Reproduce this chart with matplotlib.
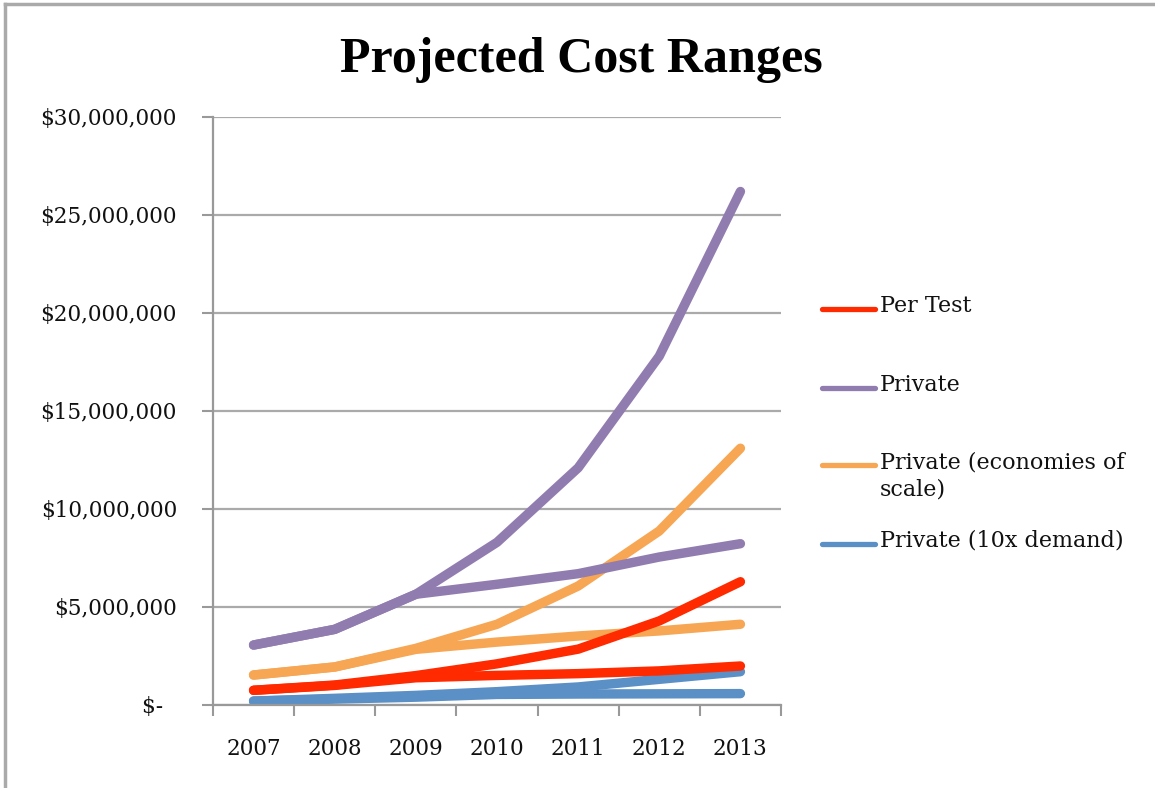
import numpy as np
import matplotlib.pyplot as plt
from matplotlib.lines import Line2D
from matplotlib.ticker import FuncFormatter

years = ["2007", "2008", "2009", "2010", "2011", "2012", "2013"]

# high / low projections for each scenario (dollars)
per_test_high = [0.75e6, 1.02e6, 1.50e6, 2.10e6, 2.85e6, 4.29e6, 6.29e6]
per_test_low = [0.75e6, 1.00e6, 1.39e6, 1.51e6, 1.60e6, 1.74e6, 1.99e6]
private_high = [3.06e6, 3.86e6, 5.65e6, 8.30e6, 12.1e6, 17.8e6, 26.2e6]
private_low = [3.06e6, 3.86e6, 5.65e6, 6.16e6, 6.70e6, 7.55e6, 8.23e6]
econ_high = [1.53e6, 1.94e6, 2.89e6, 4.12e6, 6.07e6, 8.88e6, 13.1e6]
econ_low = [1.53e6, 1.94e6, 2.84e6, 3.21e6, 3.52e6, 3.78e6, 4.12e6]
demand_high = [0.20e6, 0.34e6, 0.49e6, 0.68e6, 0.92e6, 1.31e6, 1.70e6]
demand_low = [0.20e6, 0.30e6, 0.40e6, 0.54e6, 0.56e6, 0.57e6, 0.58e6]

labels = ["Per Test", "Private", "Private (economies of\nscale)", "Private (10x demand)"]
colors = ["#FF2A00", "#917CB0", "#F7A654", "#5B90C6"]

plt.rcParams["font.family"] = ["DejaVu Serif"]

W, H = 1155, 788
fig = plt.figure(figsize=(W / 100, H / 100), dpi=100)
ax = fig.add_axes([213 / W, 1 - 705 / H, 568 / W, 588 / H])

x = np.arange(len(years))
pairs = [(per_test_high, per_test_low), (private_high, private_low),
         (econ_high, econ_low), (demand_high, demand_low)]
# draw in reverse so red sits above blue where they overlap
for i in [3, 2, 1, 0]:
    hi, lo = pairs[i]
    ax.plot(x, lo, color=colors[i], lw=6.8, solid_capstyle="round", solid_joinstyle="round")
    ax.plot(x, hi, color=colors[i], lw=6.8, solid_capstyle="round", solid_joinstyle="round")

ax.set_xlim(-0.5, 6.5)
ax.set_ylim(0, 30e6)
ax.set_yticks(np.arange(0, 30e6 + 1, 5e6))


def money(v, pos):
    if v == 0:
        return "$-  "
    return "${:,.0f}".format(v)


ax.yaxis.set_major_formatter(FuncFormatter(money))
ax.set_xticks(np.arange(-0.5, 7, 1))
ax.set_xticklabels([])
ax.set_xticks(x, minor=True)
ax.set_xticklabels(years, minor=True)
ax.tick_params(axis="x", which="minor", length=0, pad=24, labelsize=15.5)
ax.tick_params(axis="x", which="major", length=8, width=1.5, color="#999999")
ax.tick_params(axis="y", length=8, width=1.5, color="#999999", pad=18, labelsize=15.5)
for t in ax.get_xticklabels(minor=True) + ax.get_yticklabels():
    t.set_color("#111111")

ax.grid(axis="y", color="#aaaaaa", lw=1.6)
ax.set_axisbelow(True)
for s in ["top", "right"]:
    ax.spines[s].set_visible(False)
for s in ["left", "bottom"]:
    ax.spines[s].set_color("#999999")
    ax.spines[s].set_linewidth(1.6)

fig.text(581 / W, 1 - 60 / H, "Projected Cost Ranges", ha="center", va="center",
         fontsize=36, fontweight="bold", family="Liberation Serif")

# legend laid out by hand, one entry per scenario
legend_y = [309, 388, 465, 544]
for c, lab, y in zip(colors, labels, legend_y):
    fig.add_artist(Line2D([822 / W, 875 / W], [1 - y / H, 1 - y / H], color=c,
                          lw=3.8, solid_capstyle="round"))
    fig.text(880 / W, 1 - (y - 14) / H, lab, ha="left", va="top", fontsize=16,
             color="#111111", linespacing=1.3)

# frame edges of the chart area
fig.add_artist(Line2D([0.0045, 0.0045], [0, 0.995], color="#aaaaaa", lw=2.5))
fig.add_artist(Line2D([0.0045, 1.0], [0.995, 0.995], color="#aaaaaa", lw=2.5))

fig.savefig("out.png", dpi=100)
